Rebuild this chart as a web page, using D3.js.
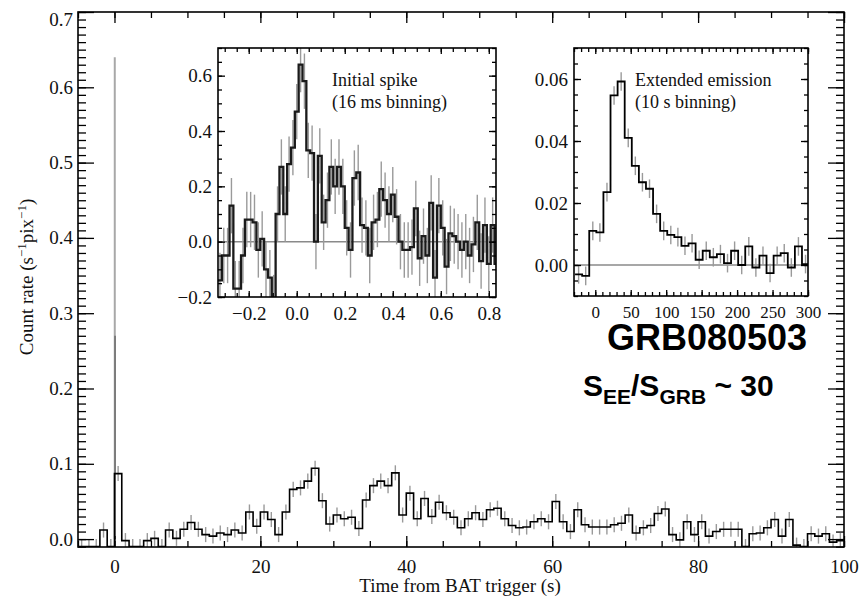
<!DOCTYPE html>
<html><head><meta charset="utf-8">
<script src="https://cdn.jsdelivr.net/npm/d3@7"></script>
<style>body{margin:0;background:#fff}svg{display:block}</style>
</head><body>
<svg id="c" width="861" height="600"></svg>
<script>
// ---------- DATA ----------
// Main light curve: 1 s bins starting at -5 s
const mainBinStart = -5, mainBinWidth = 1;
const mainRates = [
 -0.010,-0.010,-0.010, 0.012,-0.010, 0.087,-0.002,-0.010,-0.010,-0.002,
  0.001,-0.010, 0.012, 0.001, 0.013, 0.022, 0.013, 0.006, 0.004, 0.008,
  0.006, 0.012, 0.008, 0.036, 0.017, 0.036, 0.026, 0.006, 0.036, 0.066,
  0.068, 0.077, 0.094, 0.051, 0.020, 0.032, 0.027, 0.029, 0.014, 0.052,
  0.071, 0.077, 0.071, 0.088, 0.032, 0.061, 0.027, 0.054, 0.030, 0.049,
  0.035, 0.029, 0.015, 0.027, 0.035, 0.026, 0.039, 0.041, 0.027, 0.018,
  0.015, 0.016, 0.023, 0.027, 0.023, 0.050, 0.023, 0.010, 0.039, 0.019,
  0.016, 0.016, 0.016, 0.019, 0.021, 0.032, 0.008, 0.015, 0.018, 0.034,
  0.040, 0.006,-0.001, 0.023, 0.006, 0.023, 0.004, 0.010, 0.013, 0.013,
  0.013,-0.010, 0.007, 0.008, 0.015, 0.026, 0.004, 0.026,-0.008,-0.010,
  0.007, 0.004, 0.007,-0.004,-0.002
];
const mainErr = 0.01;
const mainXTicks = [0, 20, 40, 60, 80, 100];
const mainYTicks = [0.0, 0.1, 0.2, 0.3, 0.4, 0.5, 0.6, 0.7];
// high-resolution spike drawn in grey on the main panel
const overlayT = [0.04, 0.08];
const overlayV = [0.64, 0.27];

// Inset 1: initial spike, 16 ms bins
const spikeBinStart = -0.328, spikeBinWidth = 0.016;
const spikeRates = [
 -0.14,-0.05,-0.05, 0.13,-0.17,-0.17,-0.05, 0.08, 0.08, 0.07,
 -0.03, 0.01,-0.10,-0.13,-0.22, 0.10, 0.27, 0.10, 0.28, 0.34,
  0.47, 0.64, 0.58, 0.33, 0.32, 0.00, 0.31, 0.07, 0.15, 0.27,
  0.20, 0.27, 0.20, 0.05,-0.03, 0.23, 0.25, 0.06, 0.05,-0.05,
  0.07, 0.08, 0.19, 0.15, 0.10, 0.17, 0.09, 0.00,-0.03,-0.03,
 -0.02, 0.12,-0.06, 0.02,-0.05, 0.14,-0.13, 0.13, 0.05,-0.09,
  0.03, 0.02, 0.00,-0.03, 0.00,-0.05,-0.01, 0.07,-0.07, 0.06,
 -0.08, 0.06,-0.08
];
const spikeErr = 0.1;
const spikeXTicks = [-0.2, 0.0, 0.2, 0.4, 0.6, 0.8];
const spikeYTicks = [-0.2, 0.0, 0.2, 0.4, 0.6];

// Inset 2: extended emission, 10 s bins
const eeBinStart = -28.5, eeBinWidth = 10;
const eeRates = [
 -0.0030,-0.0035, 0.0110, 0.0105, 0.0235, 0.0547, 0.0592, 0.0410, 0.0320, 0.0267,
  0.0246, 0.0165, 0.0110, 0.0097, 0.0090, 0.0062, 0.0070, 0.0017, 0.0046, 0.0025,
  0.0035, 0.0006, 0.0046, 0.0000, 0.0060,-0.0008, 0.0030,-0.0026, 0.0030, 0.0038,
 -0.0008, 0.0060, 0.0003
];
const eeErr = 0.003;
const eeXTicks = [0, 50, 100, 150, 200, 250, 300];
const eeYTicks = [0.00, 0.02, 0.04, 0.06];

// ---------- DRAWING ----------
const svg = d3.select("#c");
const SERIF = "'Liberation Serif','Times New Roman',serif";
const SANS = "'Liberation Sans',Arial,sans-serif";
let clipId = 0;

function panel(cfg) {
  const w = cfg.right - cfg.left, h = cfg.bottom - cfg.top;
  const g = svg.append("g").attr("transform", `translate(${cfg.left},${cfg.top})`);
  g.append("rect").attr("width", w).attr("height", h).attr("fill", "#fff");
  const x = d3.scaleLinear().domain(cfg.xDomain).range([0, w]);
  const y = d3.scaleLinear().domain(cfg.yDomain).range([h, 0]);
  const id = "clip" + (clipId++);
  g.append("clipPath").attr("id", id).append("rect").attr("width", w).attr("height", h);
  const d = g.append("g").attr("clip-path", `url(#${id})`);
  if (cfg.zeroLine) {
    d.append("line").attr("x1", 0).attr("x2", w).attr("y1", y(0)).attr("y2", y(0))
      .attr("stroke", "#8a8a8a").attr("stroke-width", 1.5);
  }
  const n = cfg.rates.length;
  d.selectAll("line.err").data(cfg.rates).join("line").attr("class", "err")
    .attr("x1", (v, i) => x(cfg.start + (i + 0.5) * cfg.width))
    .attr("x2", (v, i) => x(cfg.start + (i + 0.5) * cfg.width))
    .attr("y1", v => y(v - cfg.err)).attr("y2", v => y(v + cfg.err))
    .attr("stroke", "#9a9a9a").attr("stroke-width", 1.4);
  if (cfg.extra) cfg.extra(d, x, y);
  const pts = cfg.rates.map((v, i) => [cfg.start + i * cfg.width, v]);
  pts.push([cfg.start + n * cfg.width, cfg.rates[n - 1]]);
  d.append("path").datum(pts)
    .attr("d", d3.line().x(p => x(p[0])).y(p => y(p[1])).curve(d3.curveStepAfter))
    .attr("fill", "none").attr("stroke", cfg.lineColor).attr("stroke-width", cfg.lineWidth)
    .attr("stroke-linejoin", "miter");

  // axes (ticks inside on all four sides)
  const styleAxis = fs => a => {
    a.select(".domain").remove();
    a.selectAll("line").attr("stroke", "#000").attr("stroke-width", 1.3);
    a.selectAll("text").attr("font-family", SERIF).attr("font-size", fs).attr("fill", "#111");
  };
  const xs = styleAxis(cfg.xFontSize || cfg.fontSize), ys = styleAxis(cfg.fontSize);
  const xMin = cfg.xMinor, yMin = cfg.yMinor;
  g.append("g").attr("transform", `translate(0,${h})`)
    .call(d3.axisBottom(x).tickValues(xMin).tickSize(-cfg.xMinLen).tickFormat("")).call(xs);
  g.append("g").attr("transform", `translate(0,${h})`)
    .call(d3.axisBottom(x).tickValues(cfg.xTicks).tickSize(-cfg.xMajLen).tickPadding(cfg.xPad).tickFormat(cfg.xFmt)).call(xs);
  g.append("g")
    .call(d3.axisTop(x).tickValues(xMin).tickSize(-cfg.xMinLen).tickFormat("")).call(xs);
  g.append("g")
    .call(d3.axisTop(x).tickValues(cfg.xTicks).tickSize(-cfg.xMajLen).tickFormat("")).call(xs);
  g.append("g")
    .call(d3.axisLeft(y).tickValues(yMin).tickSize(-cfg.yMinLen).tickFormat("")).call(ys);
  const yl = g.append("g")
    .call(d3.axisLeft(y).tickValues(cfg.yTicks).tickSize(-cfg.yMajLen).tickPadding(cfg.yPad).tickFormat(cfg.yFmt)).call(ys);
  g.append("g").attr("transform", `translate(${w},0)`)
    .call(d3.axisRight(y).tickValues(yMin).tickSize(-cfg.yMinLen).tickFormat("")).call(ys);
  g.append("g").attr("transform", `translate(${w},0)`)
    .call(d3.axisRight(y).tickValues(cfg.yTicks).tickSize(-cfg.yMajLen).tickFormat("")).call(ys);
  // keep top label inside the frame
  yl.selectAll(".tick").filter(v => y(v) < 6).select("text").attr("dy", "0.71em");

  g.append("rect").attr("width", w).attr("height", h).attr("fill", "none")
    .attr("stroke", "#000").attr("stroke-width", 1.6);
  return {g, x, y, w, h};
}

const rng = (a, b, s) => d3.range(Math.round(a / s), Math.round(b / s) + 1).map(k => +(k * s).toFixed(6));

// Main panel
panel({
  left: 78, right: 844, top: 12, bottom: 547,
  xDomain: [-5, 100], yDomain: [-0.0105, 0.7],
  start: mainBinStart, width: mainBinWidth, rates: mainRates, err: mainErr,
  lineColor: "#000", lineWidth: 1.6,
  xTicks: mainXTicks, yTicks: mainYTicks,
  xMinor: rng(-5, 100, 5), yMinor: rng(-0.01, 0.7, 0.01),
  xMajLen: 11, xMinLen: 6, yMajLen: 16, yMinLen: 8,
  xPad: 13, yPad: 5, fontSize: 19,
  xFmt: d3.format("d"), yFmt: d3.format(".1f"),
  extra: (d, x, y) => {
    d.selectAll("line.ov").data(overlayV).join("line").attr("class", "ov")
      .attr("x1", (v, i) => x(overlayT[i])).attr("x2", (v, i) => x(overlayT[i]))
      .attr("y1", y(0)).attr("y2", v => y(v))
      .attr("stroke", (v, i) => i === 0 ? "#a8a8a8" : "#707070")
      .attr("stroke-width", (v, i) => i === 0 ? 2 : 1.6);
  }
});

// Inset 1: initial spike
panel({
  left: 218, right: 496, top: 48, bottom: 297,
  xDomain: [-0.328, 0.83], yDomain: [-0.2, 0.7],
  start: spikeBinStart, width: spikeBinWidth, rates: spikeRates, err: spikeErr,
  lineColor: "#1a1a1a", lineWidth: 2.3, zeroLine: true,
  xTicks: spikeXTicks, yTicks: spikeYTicks,
  xMinor: rng(-0.3, 0.8, 0.05), yMinor: rng(-0.2, 0.7, 0.05),
  xMajLen: 6, xMinLen: 4, yMajLen: 7, yMinLen: 4,
  xPad: 10, yPad: 6, fontSize: 19,
  xFmt: d3.format(".1f"), yFmt: d3.format(".1f")
});

// Inset 2: extended emission
panel({
  left: 574, right: 808, top: 48, bottom: 296,
  xDomain: [-30, 300], yDomain: [-0.01, 0.07],
  start: eeBinStart, width: eeBinWidth, rates: eeRates, err: eeErr,
  lineColor: "#000", lineWidth: 1.8, zeroLine: true,
  xTicks: eeXTicks, yTicks: eeYTicks,
  xMinor: rng(-30, 300, 10), yMinor: rng(-0.01, 0.07, 0.005),
  xMajLen: 6, xMinLen: 4, yMajLen: 7, yMinLen: 4,
  xPad: 10, yPad: 6, fontSize: 19, xFontSize: 17,
  xFmt: d3.format("d"), yFmt: d3.format(".2f")
});

// Inset annotations
const ann = [
  {x: 332, y: 86, t: "Initial spike"},
  {x: 332, y: 108, t: "(16 ms binning)"},
  {x: 635, y: 86, t: "Extended emission"},
  {x: 635, y: 108, t: "(10 s binning)"}
];
svg.selectAll("text.ann").data(ann).join("text").attr("class", "ann")
  .attr("x", d => d.x).attr("y", d => d.y).text(d => d.t)
  .attr("font-family", SERIF).attr("font-size", 18).attr("fill", "#111");

// Axis titles
svg.append("text").attr("x", 460).attr("y", 592).attr("text-anchor", "middle")
  .attr("font-family", SERIF).attr("font-size", 19).attr("fill", "#111")
  .text("Time from BAT trigger (s)");
const yt = svg.append("text").attr("transform", "translate(33,277) rotate(-90)")
  .attr("text-anchor", "middle").attr("font-family", SERIF).attr("font-size", 19).attr("fill", "#111");
yt.append("tspan").text("Count rate (s");
yt.append("tspan").attr("dy", -7).attr("font-size", 13).text("\u22121");
yt.append("tspan").attr("dy", 7).text("pix");
yt.append("tspan").attr("dy", -7).attr("font-size", 13).text("\u22121");
yt.append("tspan").attr("dy", 7).text(")");

// Big labels
svg.append("text").attr("x", 607).attr("y", 350)
  .attr("font-family", SANS).attr("font-weight", "bold").attr("font-size", 36).attr("fill", "#000")
  .text("GRB080503");
const s = svg.append("text").attr("x", 583).attr("y", 396)
  .attr("font-family", SANS).attr("font-weight", "bold").attr("font-size", 30).attr("fill", "#000");
s.append("tspan").text("S");
s.append("tspan").attr("dy", 8).attr("font-size", 21).text("EE");
s.append("tspan").attr("dy", -8).text("/S");
s.append("tspan").attr("dy", 8).attr("font-size", 21).text("GRB");
s.append("tspan").attr("dy", -8).text(" ~ 30");
</script>
</body></html>
